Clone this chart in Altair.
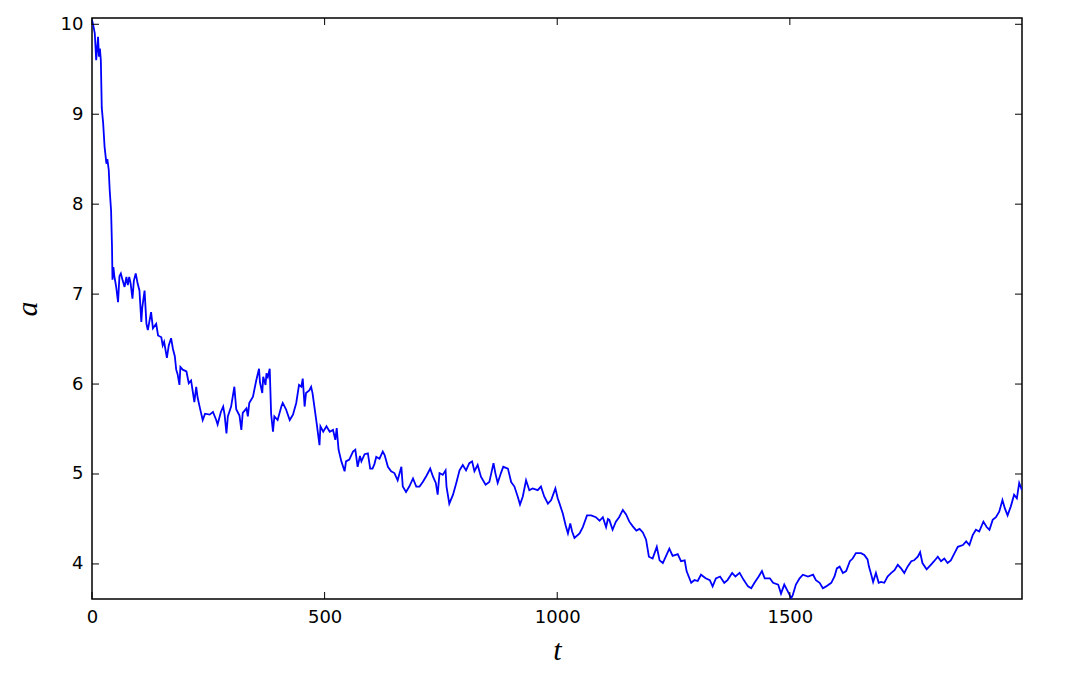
import altair as alt
import pandas as pd

t_vals = [0, 3, 6, 9, 13, 15, 17, 19, 21, 24, 27, 31, 33, 36, 38, 41, 43, 44, 46, 48,
          52, 56, 59, 62, 66, 70, 74, 77, 80, 83, 87, 90, 94, 98, 102, 106, 108, 113, 117, 120,
          127, 131, 138, 142, 149, 152, 155, 161, 165, 170, 174, 178, 181, 184, 188, 190, 195, 203, 208, 213,
          220, 224, 227, 233, 238, 243, 253, 260, 267, 270, 277, 282, 285, 289, 292, 299, 306, 310, 317, 321,
          324, 332, 335, 338, 346, 353, 359, 361, 366, 368, 373, 375, 378, 382, 385, 389, 392, 399, 407, 410,
          417, 425, 432, 439, 445, 450, 453, 457, 460, 467, 471, 474, 478, 483, 489, 491, 497, 504, 511, 518,
          523, 526, 530, 536, 543, 546, 553, 561, 566, 571, 576, 579, 586, 593, 598, 603, 607, 611, 618, 625,
          629, 636, 643, 650, 657, 665, 668, 675, 682, 690, 697, 704, 711, 719, 727, 733, 739, 743, 747, 754,
          760, 762, 768, 776, 783, 790, 797, 804, 811, 817, 822, 829, 836, 846, 854, 863, 867, 872, 879, 884,
          894, 901, 908, 915, 920, 926, 933, 940, 947, 958, 965, 972, 980, 987, 996, 1001, 1005, 1012, 1018, 1023,
          1028, 1032, 1037, 1048, 1055, 1064, 1073, 1083, 1091, 1098, 1105, 1109, 1112, 1119, 1126, 1133, 1141, 1148, 1155, 1162,
          1170, 1177, 1184, 1191, 1197, 1205, 1214, 1220, 1227, 1234, 1241, 1248, 1259, 1266, 1274, 1278, 1288, 1295, 1302, 1309,
          1319, 1328, 1334, 1341, 1350, 1359, 1366, 1376, 1383, 1392, 1401, 1410, 1417, 1424, 1433, 1440, 1446, 1457, 1464, 1475,
          1481, 1488, 1495, 1503, 1506, 1513, 1521, 1528, 1539, 1550, 1556, 1564, 1571, 1578, 1589, 1596, 1601, 1607, 1614, 1621,
          1629, 1635, 1642, 1653, 1660, 1667, 1670, 1674, 1679, 1685, 1691, 1696, 1703, 1710, 1718, 1725, 1732, 1739, 1746, 1753,
          1761, 1767, 1775, 1780, 1785, 1794, 1803, 1810, 1818, 1825, 1832, 1839, 1846, 1854, 1861, 1872, 1879, 1886, 1893, 1900,
          1907, 1916, 1923, 1929, 1936, 1943, 1950, 1957, 1962, 1968, 1975, 1982, 1988, 1993, 1999]

a_vals = [10.05, 9.98, 9.90, 9.60, 9.86, 9.64, 9.73, 9.60, 9.07, 8.90, 8.64, 8.45, 8.50, 8.38, 8.16, 7.93, 7.53, 7.16, 7.30, 7.20,
          7.08, 6.91, 7.20, 7.23, 7.15, 7.08, 7.19, 7.10, 7.19, 7.12, 6.95, 7.15, 7.23, 7.12, 7.04, 6.69, 6.85, 7.04, 6.67, 6.60,
          6.80, 6.62, 6.67, 6.54, 6.52, 6.43, 6.47, 6.29, 6.43, 6.51, 6.39, 6.31, 6.16, 6.11, 5.99, 6.19, 6.16, 6.14, 6.01, 6.04,
          5.80, 5.97, 5.85, 5.71, 5.60, 5.67, 5.66, 5.69, 5.60, 5.55, 5.69, 5.75, 5.66, 5.45, 5.64, 5.75, 5.97, 5.72, 5.65, 5.49,
          5.68, 5.73, 5.64, 5.79, 5.86, 6.04, 6.17, 6.02, 5.90, 6.08, 5.99, 6.12, 6.08, 6.17, 5.67, 5.47, 5.64, 5.60, 5.75, 5.79,
          5.72, 5.60, 5.66, 5.79, 5.99, 5.97, 6.06, 5.75, 5.90, 5.93, 5.97, 5.90, 5.75, 5.56, 5.32, 5.53, 5.47, 5.53, 5.47, 5.49,
          5.38, 5.51, 5.27, 5.14, 5.03, 5.14, 5.16, 5.25, 5.27, 5.08, 5.20, 5.14, 5.22, 5.23, 5.06, 5.06, 5.11, 5.19, 5.17, 5.25,
          5.21, 5.08, 5.03, 5.01, 4.93, 5.08, 4.86, 4.80, 4.86, 4.95, 4.86, 4.86, 4.91, 4.98, 5.06, 4.97, 4.90, 4.77, 5.01, 4.99,
          5.04, 4.86, 4.67, 4.77, 4.90, 5.04, 5.10, 5.04, 5.12, 5.14, 5.03, 5.10, 4.97, 4.88, 4.91, 5.12, 5.01, 4.90, 5.01, 5.08,
          5.06, 4.91, 4.86, 4.75, 4.66, 4.75, 4.93, 4.82, 4.84, 4.82, 4.86, 4.75, 4.67, 4.71, 4.84, 4.73, 4.67, 4.56, 4.43, 4.34,
          4.45, 4.36, 4.29, 4.34, 4.41, 4.54, 4.54, 4.52, 4.48, 4.52, 4.41, 4.50, 4.49, 4.38, 4.47, 4.52, 4.60, 4.55, 4.47, 4.42,
          4.37, 4.39, 4.35, 4.27, 4.08, 4.06, 4.19, 4.04, 4.01, 4.09, 4.17, 4.09, 4.11, 4.03, 4.04, 3.92, 3.79, 3.82, 3.81, 3.88,
          3.84, 3.82, 3.75, 3.84, 3.86, 3.79, 3.82, 3.90, 3.86, 3.90, 3.82, 3.75, 3.73, 3.79, 3.86, 3.92, 3.84, 3.84, 3.79, 3.77,
          3.67, 3.77, 3.70, 3.62, 3.65, 3.77, 3.84, 3.88, 3.86, 3.88, 3.82, 3.79, 3.73, 3.75, 3.79, 3.86, 3.95, 3.97, 3.90, 3.92,
          4.03, 4.06, 4.12, 4.12, 4.10, 4.05, 3.97, 3.90, 3.80, 3.90, 3.79, 3.80, 3.79, 3.86, 3.90, 3.93, 3.99, 3.95, 3.90, 3.97,
          4.03, 4.04, 4.08, 4.13, 4.01, 3.94, 3.99, 4.03, 4.08, 4.03, 4.06, 4.01, 4.04, 4.12, 4.19, 4.21, 4.25, 4.21, 4.32, 4.38,
          4.36, 4.47, 4.41, 4.38, 4.49, 4.52, 4.58, 4.71, 4.62, 4.54, 4.64, 4.77, 4.73, 4.90, 4.82]

x_ticks = [0, 500, 1000, 1500]
y_ticks = [4, 5, 6, 7, 8, 9, 10]
x_domain = [0, 1999]
y_domain = [3.61, 10.07]

W, H = 930, 581
TICK = 7

df = pd.DataFrame({"t": t_vals, "a": a_vals})
xt = pd.DataFrame({"t": x_ticks})
yt = pd.DataFrame({"a": y_ticks})

xscale = alt.Scale(domain=x_domain, nice=False, zero=False)
yscale = alt.Scale(domain=y_domain, nice=False, zero=False)

label_font = "DejaVu Sans"
title_font = "Liberation Serif"

line = alt.Chart(df).mark_line(color="#0000ff", strokeWidth=1.8, clip=True).encode(
    x=alt.X("t:Q", scale=xscale,
            axis=alt.Axis(values=x_ticks, format="d", title="t", ticks=False, domain=False, grid=False,
                          labelFont=label_font, labelFontSize=18, labelColor="black",
                          labelPadding=9, titleFont=title_font, titleFontStyle="italic",
                          titleFontSize=30, titleFontWeight="normal", titleColor="black",
                          titlePadding=9, labelFlush=False)),
    y=alt.Y("a:Q", scale=yscale,
            axis=alt.Axis(values=y_ticks, format="d", title="a", ticks=False, domain=False, grid=False,
                          labelFont=label_font, labelFontSize=18, labelColor="black",
                          labelPadding=9, titleFont=title_font, titleFontStyle="italic",
                          titleFontSize=30, titleFontWeight="normal", titleColor="black",
                          titlePadding=18, labelFlush=False)),
)

bottom_ticks = alt.Chart(xt).mark_rule(color="black", strokeWidth=1).encode(
    x=alt.X("t:Q", scale=xscale), y=alt.value(H), y2=alt.value(H - TICK))
top_ticks = alt.Chart(xt).mark_rule(color="black", strokeWidth=1).encode(
    x=alt.X("t:Q", scale=xscale), y=alt.value(0), y2=alt.value(TICK))
left_ticks = alt.Chart(yt).mark_rule(color="black", strokeWidth=1).encode(
    y=alt.Y("a:Q", scale=yscale), x=alt.value(0), x2=alt.value(TICK))
right_ticks = alt.Chart(yt).mark_rule(color="black", strokeWidth=1).encode(
    y=alt.Y("a:Q", scale=yscale), x=alt.value(W), x2=alt.value(W - TICK))

chart = alt.layer(line, bottom_ticks, top_ticks, left_ticks, right_ticks).properties(
    width=W, height=H,
    autosize=alt.AutoSizeParams(type="none"),
    padding={"left": 92, "top": 18, "right": 43, "bottom": 87},
    background="white",
).configure_view(stroke="black", strokeWidth=1.5)

chart.save("out.html", embed_options={"renderer": "svg", "actions": False})
